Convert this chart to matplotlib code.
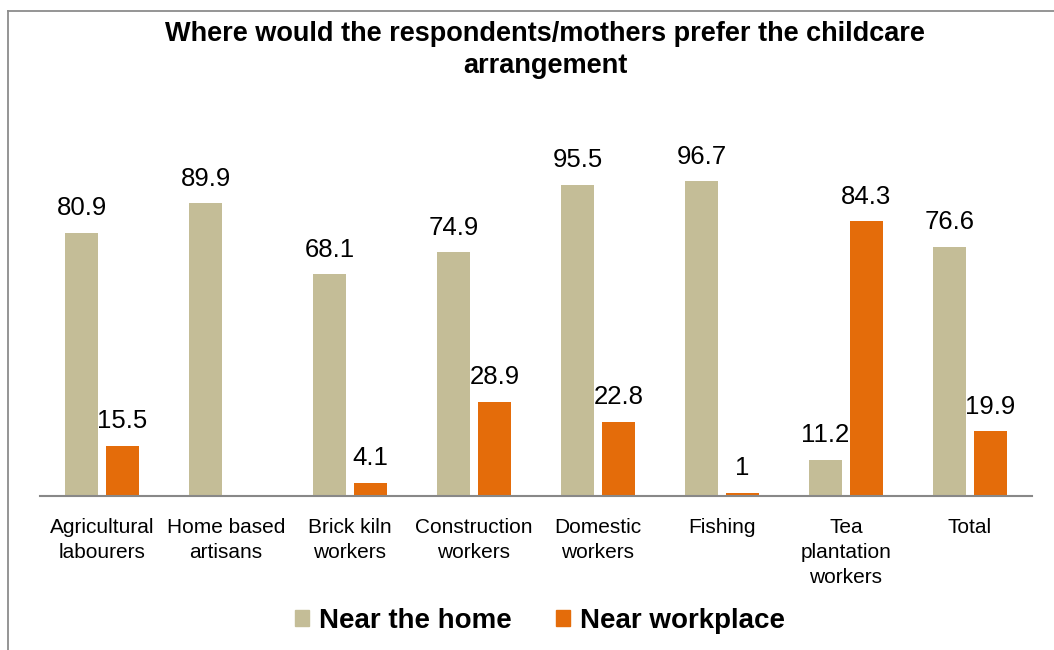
import numpy as np
import matplotlib
matplotlib.use("Agg")
import matplotlib.pyplot as plt
from matplotlib.lines import Line2D
from matplotlib.patches import Patch

categories = ["Agricultural\nlabourers", "Home based\nartisans", "Brick kiln\nworkers",
              "Construction\nworkers", "Domestic\nworkers", "Fishing",
              "Tea\nplantation\nworkers", "Total"]
near_home = [80.9, 89.9, 68.1, 74.9, 95.5, 96.7, 11.2, 76.6]
near_work = [15.5, np.nan, 4.1, 28.9, 22.8, 1.0, 84.3, 19.9]
series_names = ["Near the home", "Near workplace"]
title = "Where would the respondents/mothers prefer the childcare\narrangement"

c_home = "#C4BD97"
c_work = "#E46C0A"
plt.rcParams['font.family'] = ['Liberation Sans', 'DejaVu Sans']

W, H = 1054, 650
fig = plt.figure(figsize=(W / 100, H / 100), dpi=100)
ax = fig.add_axes([40 / W, (H - 496) / H, (1032 - 40) / W, 325.7 / H])

x = np.arange(len(categories))
bw = 0.266
off = 0.165
ax.bar(x - off, near_home, bw, color=c_home, label=series_names[0])
ax.bar(x + off, near_work, bw, color=c_work, label=series_names[1])

for xi, v in zip(x, near_home):
    if not np.isnan(v):
        ax.annotate(f"{v:g}", (xi - off, v), xytext=(0, 9), textcoords="offset points",
                    ha="center", va="bottom", fontsize=18.5)
for xi, v in zip(x, near_work):
    if not np.isnan(v):
        ax.annotate(f"{v:g}", (xi + off, v), xytext=(0, 9), textcoords="offset points",
                    ha="center", va="bottom", fontsize=18.5)

ax.set_xlim(-0.5, len(categories) - 0.5)
ax.set_ylim(0, 100)
ax.set_yticks([])
ax.set_xticks(x)
ax.set_xticklabels(categories, fontsize=15, linespacing=1.4)
ax.tick_params(axis="x", length=0, pad=16)
for s in ["top", "right", "left"]:
    ax.spines[s].set_visible(False)
ax.spines["bottom"].set_color("#888888")
ax.spines["bottom"].set_linewidth(1.5)

fig.text(545 / W, 1 - 50 / H, title, ha="center", va="center", fontsize=19.5,
         fontweight="bold", linespacing=1.3)

handles = [Patch(color=c_home), Patch(color=c_work)]
fig.legend(handles, series_names, loc="center", bbox_to_anchor=(540 / W, 1 - 621 / H),
           ncol=2, frameon=False, prop={"size": 20, "weight": "bold"},
           handlelength=0.5, handleheight=0.5, handletextpad=0.35, columnspacing=1.6)

# chart border
fig.add_artist(Line2D([8 / W, 8 / W], [0, 1 - 11 / H], transform=fig.transFigure,
                      color="#8c8c8c", lw=1.3))
fig.add_artist(Line2D([8 / W, 1], [1 - 11 / H, 1 - 11 / H], transform=fig.transFigure,
                      color="#8c8c8c", lw=1.3))

fig.savefig("out.png", dpi=100, facecolor="white")
